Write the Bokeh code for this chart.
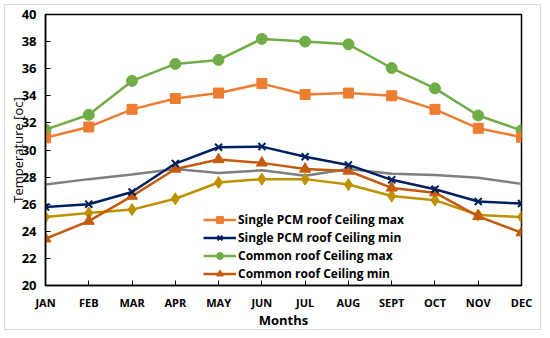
from bokeh.plotting import figure
from bokeh.models import Legend, LegendItem, FixedTicker, Range1d, ColumnDataSource
from bokeh.embed import file_html
from bokeh.resources import INLINE

months = ["JAN", "FEB", "MAR", "APR", "MAY", "JUN", "JUL", "AUG", "SEPT", "OCT", "NOV", "DEC"]
single_max = [30.9, 31.7, 33.0, 33.8, 34.2, 34.9, 34.1, 34.2, 34.0, 33.0, 31.6, 30.95]
single_min = [25.8, 26.0, 26.9, 29.0, 30.2, 30.25, 29.5, 28.9, 27.8, 27.1, 26.2, 26.05]
common_max = [31.5, 32.6, 35.1, 36.35, 36.65, 38.2, 38.0, 37.8, 36.05, 34.55, 32.55, 31.45]
common_min = [23.45, 24.75, 26.6, 28.6, 29.3, 29.05, 28.6, 28.45, 27.2, 26.85, 25.1, 23.9]
other_a = [25.05, 25.35, 25.6, 26.4, 27.6, 27.85, 27.85, 27.45, 26.6, 26.3, 25.2, 25.05]
other_b = [27.45, 27.85, 28.2, 28.6, 28.3, 28.5, 28.1, 28.6, 28.25, 28.15, 27.95, 27.5]
y_ticks = [20, 22, 24, 26, 28, 30, 32, 34, 36, 38, 40]

xs = list(range(len(months)))
FONT = "Open Sans"

p = figure(width=537, height=326, output_backend="svg", toolbar_location=None,
           x_range=Range1d(0, len(months) - 1), y_range=Range1d(20, 40),
           min_border_left=39, min_border_right=21, min_border_top=9, min_border_bottom=36)
p.styles = {"border": "1px solid #d9d9d9", "margin-left": "4px", "margin-top": "4px"}
p.grid.visible = False
p.outline_line_color = "black"
p.outline_line_width = 1.5
p.background_fill_color = "white"
p.border_fill_color = "white"

# axes
p.xaxis.ticker = FixedTicker(ticks=xs)
p.xaxis.major_label_overrides = {i: m for i, m in enumerate(months)}
p.yaxis.ticker = FixedTicker(ticks=y_ticks)
for ax in (p.xaxis[0], p.yaxis[0]):
    ax.axis_line_color = "black"
    ax.axis_line_width = 1.5
    ax.major_tick_in = 5
    ax.major_tick_out = 0
    ax.major_tick_line_color = "black"
    ax.minor_tick_line_color = None
    ax.major_label_text_font = FONT
    ax.major_label_text_font_style = "bold"
    ax.major_label_text_color = "black"
    ax.axis_label_text_color = "black"
    ax.axis_label_text_font = FONT
    ax.axis_label_text_font_size = "13px"
p.xaxis.major_label_text_font_size = "11px"
p.xaxis.major_label_standoff = 9
p.yaxis.major_label_text_font_size = "13px"
p.yaxis.major_label_standoff = 9
p.xaxis.axis_label = "Months"
p.xaxis.axis_label_text_font_style = "bold"
p.xaxis.axis_label_standoff = -2
p.yaxis.axis_label = "Temperature [oc]"
p.yaxis.axis_label_text_font_style = "normal"
p.yaxis.axis_label_standoff = -8

src = ColumnDataSource(dict(x=xs, sm=single_max, sn=single_min, cm=common_max, cn=common_min,
                            oa=other_a, ob=other_b))

lw = 2.5
# unlabeled series
p.line("x", "ob", source=src, color="#7f7f7f", line_width=lw)
p.line("x", "oa", source=src, color="#bf9000", line_width=lw)
p.scatter("x", "oa", source=src, marker="diamond", size=12, color="#bf9000")

r_cn_l = p.line("x", "cn", source=src, color="#c55a11", line_width=lw)
r_cn_m = p.scatter("x", "cn", source=src, marker="triangle", size=11, color="#c55a11")
r_sn_l = p.line("x", "sn", source=src, color="#002060", line_width=lw)
r_sn_m = p.scatter("x", "sn", source=src, marker="x", size=10, line_color="#002060", line_width=2)
r_cm_l = p.line("x", "cm", source=src, color="#70ad47", line_width=lw)
r_cm_m = p.scatter("x", "cm", source=src, marker="circle", size=11, color="#70ad47")
r_sm_l = p.line("x", "sm", source=src, color="#ed7d31", line_width=lw)
r_sm_m = p.scatter("x", "sm", source=src, marker="square", size=10, color="#ed7d31")

legend = Legend(items=[
    LegendItem(label="Single PCM roof Ceiling max", renderers=[r_sm_l, r_sm_m]),
    LegendItem(label="Single PCM roof Ceiling min", renderers=[r_sn_l, r_sn_m]),
    LegendItem(label="Common roof Ceiling max", renderers=[r_cm_l, r_cm_m]),
    LegendItem(label="Common roof Ceiling min", renderers=[r_cn_l, r_cn_m]),
], location=(158, 3))
legend.background_fill_alpha = 0
legend.border_line_color = None
legend.padding = 0
legend.margin = 0
legend.spacing = 1
legend.glyph_width = 33
legend.glyph_height = 17
legend.label_height = 17
legend.label_standoff = 2
legend.label_text_font = FONT
legend.label_text_font_size = "12px"
legend.label_text_font_style = "bold"
legend.label_text_color = "black"
p.add_layout(legend, "center")

open("out.html", "w").write(file_html(p, INLINE))
